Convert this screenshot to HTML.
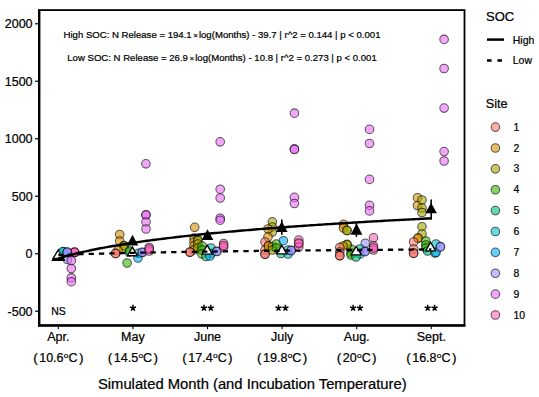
<!DOCTYPE html>
<html><head><meta charset="utf-8"><style>
html,body{margin:0;padding:0;background:#fff;}
svg{display:block;font-family:"Liberation Sans",sans-serif;}
text{fill:#000;stroke:#000;stroke-width:0.22px;}
</style></head><body>
<svg width="539" height="397" viewBox="0 0 539 397"><rect width="539" height="397" fill="#fff"/><rect x="39.2" y="10.1" width="425.3" height="315.3" fill="none" stroke="#000" stroke-width="1.8"/><line x1="39.2" y1="9.2" x2="39.2" y2="326.6" stroke="#000" stroke-width="2.3"/><line x1="38.1" y1="325.5" x2="465.4" y2="325.5" stroke="#000" stroke-width="2.3"/><line x1="35.2" y1="23.75" x2="38" y2="23.75" stroke="#000" stroke-width="1.3"/><text transform="translate(32.60,28.05) scale(1.045,1)" text-anchor="end" font-size="12" >2000</text><line x1="35.2" y1="81.25" x2="38" y2="81.25" stroke="#000" stroke-width="1.3"/><text transform="translate(32.60,85.55) scale(1.045,1)" text-anchor="end" font-size="12" >1500</text><line x1="35.2" y1="138.75" x2="38" y2="138.75" stroke="#000" stroke-width="1.3"/><text transform="translate(32.60,143.05) scale(1.045,1)" text-anchor="end" font-size="12" >1000</text><line x1="35.2" y1="196.25" x2="38" y2="196.25" stroke="#000" stroke-width="1.3"/><text transform="translate(32.60,200.55) scale(1.045,1)" text-anchor="end" font-size="12" >500</text><line x1="35.2" y1="253.75" x2="38" y2="253.75" stroke="#000" stroke-width="1.3"/><text transform="translate(32.60,258.05) scale(1.045,1)" text-anchor="end" font-size="12" >0</text><line x1="35.2" y1="311.25" x2="38" y2="311.25" stroke="#000" stroke-width="1.3"/><text transform="translate(32.60,315.55) scale(1.045,1)" text-anchor="end" font-size="12" >-500</text><line x1="58.30" y1="326.6" x2="58.30" y2="329.2" stroke="#000" stroke-width="1.1"/><line x1="132.90" y1="326.6" x2="132.90" y2="329.2" stroke="#000" stroke-width="1.1"/><line x1="207.50" y1="326.6" x2="207.50" y2="329.2" stroke="#000" stroke-width="1.1"/><line x1="282.10" y1="326.6" x2="282.10" y2="329.2" stroke="#000" stroke-width="1.1"/><line x1="356.70" y1="326.6" x2="356.70" y2="329.2" stroke="#000" stroke-width="1.1"/><line x1="431.30" y1="326.6" x2="431.30" y2="329.2" stroke="#000" stroke-width="1.1"/><text transform="translate(58.30,341.00) scale(1.045,1)" text-anchor="middle" font-size="12" >Apr.</text><text transform="translate(58.30,362.30) scale(1.045,1)" text-anchor="middle" font-size="12" ><tspan font-size="13" dy="-0.6">(</tspan><tspan dx="1.4" dy="0.6">10.6</tspan><tspan font-size="8" dy="-4.6" dx="0.3">o</tspan><tspan dy="4.6">C</tspan><tspan dx="1.3" font-size="13" dy="-0.6">)</tspan></text><text transform="translate(132.90,341.00) scale(1.045,1)" text-anchor="middle" font-size="12" >May</text><text transform="translate(132.90,362.30) scale(1.045,1)" text-anchor="middle" font-size="12" ><tspan font-size="13" dy="-0.6">(</tspan><tspan dx="1.4" dy="0.6">14.5</tspan><tspan font-size="8" dy="-4.6" dx="0.3">o</tspan><tspan dy="4.6">C</tspan><tspan dx="1.3" font-size="13" dy="-0.6">)</tspan></text><text transform="translate(207.50,341.00) scale(1.045,1)" text-anchor="middle" font-size="12" >June</text><text transform="translate(207.50,362.30) scale(1.045,1)" text-anchor="middle" font-size="12" ><tspan font-size="13" dy="-0.6">(</tspan><tspan dx="1.4" dy="0.6">17.4</tspan><tspan font-size="8" dy="-4.6" dx="0.3">o</tspan><tspan dy="4.6">C</tspan><tspan dx="1.3" font-size="13" dy="-0.6">)</tspan></text><text transform="translate(282.10,341.00) scale(1.045,1)" text-anchor="middle" font-size="12" >July</text><text transform="translate(282.10,362.30) scale(1.045,1)" text-anchor="middle" font-size="12" ><tspan font-size="13" dy="-0.6">(</tspan><tspan dx="1.4" dy="0.6">19.8</tspan><tspan font-size="8" dy="-4.6" dx="0.3">o</tspan><tspan dy="4.6">C</tspan><tspan dx="1.3" font-size="13" dy="-0.6">)</tspan></text><text transform="translate(356.70,341.00) scale(1.045,1)" text-anchor="middle" font-size="12" >Aug.</text><text transform="translate(356.70,362.30) scale(1.045,1)" text-anchor="middle" font-size="12" ><tspan font-size="13" dy="-0.6">(</tspan><tspan dx="1.4" dy="0.6">20</tspan><tspan font-size="8" dy="-4.6" dx="0.3">o</tspan><tspan dy="4.6">C</tspan><tspan dx="1.3" font-size="13" dy="-0.6">)</tspan></text><text transform="translate(431.30,341.00) scale(1.045,1)" text-anchor="middle" font-size="12" >Sept.</text><text transform="translate(431.30,362.30) scale(1.045,1)" text-anchor="middle" font-size="12" ><tspan font-size="13" dy="-0.6">(</tspan><tspan dx="1.4" dy="0.6">16.8</tspan><tspan font-size="8" dy="-4.6" dx="0.3">o</tspan><tspan dy="4.6">C</tspan><tspan dx="1.3" font-size="13" dy="-0.6">)</tspan></text><text transform="translate(252.30,389.10) scale(1.05,1)" text-anchor="middle" font-size="14.1" >Simulated Month (and Incubation Temperature)</text><circle cx="63.0" cy="251.9" r="4.3" fill="#00BFC4" fill-opacity="0.6" stroke="#000" stroke-opacity="0.62" stroke-width="1.05"/><circle cx="67.5" cy="259.5" r="4.3" fill="#9590FF" fill-opacity="0.6" stroke="#000" stroke-opacity="0.62" stroke-width="1.05"/><circle cx="71.3" cy="260.7" r="4.3" fill="#E76BF3" fill-opacity="0.6" stroke="#000" stroke-opacity="0.62" stroke-width="1.05"/><circle cx="71.3" cy="268.5" r="4.3" fill="#E76BF3" fill-opacity="0.6" stroke="#000" stroke-opacity="0.62" stroke-width="1.05"/><circle cx="71.3" cy="277.9" r="4.3" fill="#E76BF3" fill-opacity="0.6" stroke="#000" stroke-opacity="0.62" stroke-width="1.05"/><circle cx="71.3" cy="281.7" r="4.3" fill="#E76BF3" fill-opacity="0.6" stroke="#000" stroke-opacity="0.62" stroke-width="1.05"/><circle cx="74.6" cy="252.6" r="4.3" fill="#FF62BC" fill-opacity="0.6" stroke="#000" stroke-opacity="0.62" stroke-width="1.05"/><circle cx="74.6" cy="252.0" r="4.3" fill="#FF62BC" fill-opacity="0.6" stroke="#000" stroke-opacity="0.62" stroke-width="1.05"/><circle cx="74.6" cy="252.3" r="4.3" fill="#FF62BC" fill-opacity="0.6" stroke="#000" stroke-opacity="0.62" stroke-width="1.05"/><circle cx="145.9" cy="163.8" r="4.3" fill="#E76BF3" fill-opacity="0.6" stroke="#000" stroke-opacity="0.62" stroke-width="1.05"/><circle cx="146" cy="214.8" r="4.3" fill="#E76BF3" fill-opacity="0.6" stroke="#000" stroke-opacity="0.62" stroke-width="1.05"/><circle cx="146" cy="215" r="4.3" fill="#E76BF3" fill-opacity="0.6" stroke="#000" stroke-opacity="0.62" stroke-width="1.05"/><circle cx="146" cy="222" r="4.3" fill="#E76BF3" fill-opacity="0.6" stroke="#000" stroke-opacity="0.62" stroke-width="1.05"/><circle cx="146" cy="229" r="4.3" fill="#E76BF3" fill-opacity="0.6" stroke="#000" stroke-opacity="0.62" stroke-width="1.05"/><circle cx="119.7" cy="234.5" r="4.3" fill="#D89000" fill-opacity="0.6" stroke="#000" stroke-opacity="0.62" stroke-width="1.05"/><circle cx="119.7" cy="241" r="4.3" fill="#D89000" fill-opacity="0.6" stroke="#000" stroke-opacity="0.62" stroke-width="1.05"/><circle cx="124" cy="245.5" r="4.3" fill="#A3A500" fill-opacity="0.6" stroke="#000" stroke-opacity="0.62" stroke-width="1.05"/><circle cx="124" cy="246" r="4.3" fill="#A3A500" fill-opacity="0.6" stroke="#000" stroke-opacity="0.62" stroke-width="1.05"/><circle cx="124" cy="249" r="4.3" fill="#A3A500" fill-opacity="0.6" stroke="#000" stroke-opacity="0.62" stroke-width="1.05"/><circle cx="118" cy="250.5" r="4.3" fill="#D89000" fill-opacity="0.6" stroke="#000" stroke-opacity="0.62" stroke-width="1.05"/><circle cx="115.6" cy="253.3" r="4.3" fill="#F8766D" fill-opacity="0.6" stroke="#000" stroke-opacity="0.62" stroke-width="1.05"/><circle cx="115.6" cy="253.6" r="4.3" fill="#F8766D" fill-opacity="0.6" stroke="#000" stroke-opacity="0.62" stroke-width="1.05"/><circle cx="127.1" cy="263" r="4.3" fill="#39B600" fill-opacity="0.6" stroke="#000" stroke-opacity="0.62" stroke-width="1.05"/><circle cx="129.2" cy="252" r="4.3" fill="#00BF7D" fill-opacity="0.6" stroke="#000" stroke-opacity="0.62" stroke-width="1.05"/><circle cx="129.8" cy="251" r="4.3" fill="#39B600" fill-opacity="0.6" stroke="#000" stroke-opacity="0.62" stroke-width="1.05"/><circle cx="138.3" cy="253.4" r="4.3" fill="#00BFC4" fill-opacity="0.6" stroke="#000" stroke-opacity="0.62" stroke-width="1.05"/><circle cx="138" cy="258" r="4.3" fill="#00B0F6" fill-opacity="0.6" stroke="#000" stroke-opacity="0.62" stroke-width="1.05"/><circle cx="142.3" cy="252.5" r="4.3" fill="#9590FF" fill-opacity="0.6" stroke="#000" stroke-opacity="0.62" stroke-width="1.05"/><circle cx="142.3" cy="252.2" r="4.3" fill="#9590FF" fill-opacity="0.6" stroke="#000" stroke-opacity="0.62" stroke-width="1.05"/><circle cx="149.2" cy="247.5" r="4.3" fill="#FF62BC" fill-opacity="0.6" stroke="#000" stroke-opacity="0.62" stroke-width="1.05"/><circle cx="149.2" cy="251" r="4.3" fill="#FF62BC" fill-opacity="0.6" stroke="#000" stroke-opacity="0.62" stroke-width="1.05"/><circle cx="149.2" cy="249" r="4.3" fill="#FF62BC" fill-opacity="0.6" stroke="#000" stroke-opacity="0.62" stroke-width="1.05"/><circle cx="220.2" cy="141.8" r="4.3" fill="#E76BF3" fill-opacity="0.6" stroke="#000" stroke-opacity="0.62" stroke-width="1.05"/><circle cx="220.2" cy="189.2" r="4.3" fill="#E76BF3" fill-opacity="0.6" stroke="#000" stroke-opacity="0.62" stroke-width="1.05"/><circle cx="220.2" cy="198" r="4.3" fill="#E76BF3" fill-opacity="0.6" stroke="#000" stroke-opacity="0.62" stroke-width="1.05"/><circle cx="220.2" cy="218.2" r="4.3" fill="#E76BF3" fill-opacity="0.6" stroke="#000" stroke-opacity="0.62" stroke-width="1.05"/><circle cx="220.2" cy="220.2" r="4.3" fill="#E76BF3" fill-opacity="0.6" stroke="#000" stroke-opacity="0.62" stroke-width="1.05"/><circle cx="194.7" cy="227.3" r="4.3" fill="#D89000" fill-opacity="0.6" stroke="#000" stroke-opacity="0.62" stroke-width="1.05"/><circle cx="194" cy="238" r="4.3" fill="#D89000" fill-opacity="0.6" stroke="#000" stroke-opacity="0.62" stroke-width="1.05"/><circle cx="194" cy="242" r="4.3" fill="#D89000" fill-opacity="0.6" stroke="#000" stroke-opacity="0.62" stroke-width="1.05"/><circle cx="194" cy="246" r="4.3" fill="#D89000" fill-opacity="0.6" stroke="#000" stroke-opacity="0.62" stroke-width="1.05"/><circle cx="194" cy="250" r="4.3" fill="#D89000" fill-opacity="0.6" stroke="#000" stroke-opacity="0.62" stroke-width="1.05"/><circle cx="197.9" cy="240" r="4.3" fill="#A3A500" fill-opacity="0.6" stroke="#000" stroke-opacity="0.62" stroke-width="1.05"/><circle cx="197.9" cy="240.5" r="4.3" fill="#A3A500" fill-opacity="0.6" stroke="#000" stroke-opacity="0.62" stroke-width="1.05"/><circle cx="197.9" cy="244" r="4.3" fill="#A3A500" fill-opacity="0.6" stroke="#000" stroke-opacity="0.62" stroke-width="1.05"/><circle cx="197.9" cy="248" r="4.3" fill="#A3A500" fill-opacity="0.6" stroke="#000" stroke-opacity="0.62" stroke-width="1.05"/><circle cx="189.9" cy="252" r="4.3" fill="#F8766D" fill-opacity="0.6" stroke="#000" stroke-opacity="0.62" stroke-width="1.05"/><circle cx="189.9" cy="252.3" r="4.3" fill="#F8766D" fill-opacity="0.6" stroke="#000" stroke-opacity="0.62" stroke-width="1.05"/><circle cx="202" cy="246" r="4.3" fill="#39B600" fill-opacity="0.6" stroke="#000" stroke-opacity="0.62" stroke-width="1.05"/><circle cx="202" cy="250" r="4.3" fill="#39B600" fill-opacity="0.6" stroke="#000" stroke-opacity="0.62" stroke-width="1.05"/><circle cx="202" cy="254" r="4.3" fill="#39B600" fill-opacity="0.6" stroke="#000" stroke-opacity="0.62" stroke-width="1.05"/><circle cx="211" cy="248" r="4.3" fill="#00BFC4" fill-opacity="0.6" stroke="#000" stroke-opacity="0.62" stroke-width="1.05"/><circle cx="211" cy="253.5" r="4.3" fill="#00BFC4" fill-opacity="0.6" stroke="#000" stroke-opacity="0.62" stroke-width="1.05"/><circle cx="206" cy="256.5" r="4.3" fill="#00BF7D" fill-opacity="0.6" stroke="#000" stroke-opacity="0.62" stroke-width="1.05"/><circle cx="210" cy="256" r="4.3" fill="#00B0F6" fill-opacity="0.6" stroke="#000" stroke-opacity="0.62" stroke-width="1.05"/><circle cx="216.8" cy="251.2" r="4.3" fill="#9590FF" fill-opacity="0.6" stroke="#000" stroke-opacity="0.62" stroke-width="1.05"/><circle cx="216.8" cy="251.5" r="4.3" fill="#9590FF" fill-opacity="0.6" stroke="#000" stroke-opacity="0.62" stroke-width="1.05"/><circle cx="223.6" cy="243.5" r="4.3" fill="#FF62BC" fill-opacity="0.6" stroke="#000" stroke-opacity="0.62" stroke-width="1.05"/><circle cx="223.6" cy="247.5" r="4.3" fill="#FF62BC" fill-opacity="0.6" stroke="#000" stroke-opacity="0.62" stroke-width="1.05"/><circle cx="223.6" cy="245.5" r="4.3" fill="#FF62BC" fill-opacity="0.6" stroke="#000" stroke-opacity="0.62" stroke-width="1.05"/><circle cx="294.4" cy="113.2" r="4.3" fill="#E76BF3" fill-opacity="0.6" stroke="#000" stroke-opacity="0.62" stroke-width="1.05"/><circle cx="294.4" cy="148.9" r="4.3" fill="#E76BF3" fill-opacity="0.6" stroke="#000" stroke-opacity="0.62" stroke-width="1.05"/><circle cx="294.4" cy="149.5" r="4.3" fill="#E76BF3" fill-opacity="0.6" stroke="#000" stroke-opacity="0.62" stroke-width="1.05"/><circle cx="294.4" cy="197.4" r="4.3" fill="#E76BF3" fill-opacity="0.6" stroke="#000" stroke-opacity="0.62" stroke-width="1.05"/><circle cx="294.4" cy="203.5" r="4.3" fill="#E76BF3" fill-opacity="0.6" stroke="#000" stroke-opacity="0.62" stroke-width="1.05"/><circle cx="272.3" cy="221.8" r="4.3" fill="#A3A500" fill-opacity="0.6" stroke="#000" stroke-opacity="0.62" stroke-width="1.05"/><circle cx="272.3" cy="227" r="4.3" fill="#A3A500" fill-opacity="0.6" stroke="#000" stroke-opacity="0.62" stroke-width="1.05"/><circle cx="272.3" cy="232" r="4.3" fill="#A3A500" fill-opacity="0.6" stroke="#000" stroke-opacity="0.62" stroke-width="1.05"/><circle cx="268" cy="229" r="4.3" fill="#D89000" fill-opacity="0.6" stroke="#000" stroke-opacity="0.62" stroke-width="1.05"/><circle cx="268" cy="237" r="4.3" fill="#D89000" fill-opacity="0.6" stroke="#000" stroke-opacity="0.62" stroke-width="1.05"/><circle cx="265" cy="242" r="4.3" fill="#F8766D" fill-opacity="0.6" stroke="#000" stroke-opacity="0.62" stroke-width="1.05"/><circle cx="265" cy="250" r="4.3" fill="#F8766D" fill-opacity="0.6" stroke="#000" stroke-opacity="0.62" stroke-width="1.05"/><circle cx="265" cy="254" r="4.3" fill="#F8766D" fill-opacity="0.6" stroke="#000" stroke-opacity="0.62" stroke-width="1.05"/><circle cx="265" cy="254.3" r="4.3" fill="#F8766D" fill-opacity="0.6" stroke="#000" stroke-opacity="0.62" stroke-width="1.05"/><circle cx="268.5" cy="245.7" r="4.3" fill="#D89000" fill-opacity="0.6" stroke="#000" stroke-opacity="0.62" stroke-width="1.05"/><circle cx="268.5" cy="246" r="4.3" fill="#D89000" fill-opacity="0.6" stroke="#000" stroke-opacity="0.62" stroke-width="1.05"/><circle cx="272.5" cy="246.5" r="4.3" fill="#A3A500" fill-opacity="0.6" stroke="#000" stroke-opacity="0.62" stroke-width="1.05"/><circle cx="272.5" cy="250" r="4.3" fill="#A3A500" fill-opacity="0.6" stroke="#000" stroke-opacity="0.62" stroke-width="1.05"/><circle cx="276.4" cy="244" r="4.3" fill="#39B600" fill-opacity="0.6" stroke="#000" stroke-opacity="0.62" stroke-width="1.05"/><circle cx="276.4" cy="248" r="4.3" fill="#39B600" fill-opacity="0.6" stroke="#000" stroke-opacity="0.62" stroke-width="1.05"/><circle cx="283.4" cy="240.7" r="4.3" fill="#00B0F6" fill-opacity="0.6" stroke="#000" stroke-opacity="0.62" stroke-width="1.05"/><circle cx="281" cy="253.5" r="4.3" fill="#00BF7D" fill-opacity="0.6" stroke="#000" stroke-opacity="0.62" stroke-width="1.05"/><circle cx="288" cy="250" r="4.3" fill="#00BFC4" fill-opacity="0.6" stroke="#000" stroke-opacity="0.62" stroke-width="1.05"/><circle cx="288" cy="254" r="4.3" fill="#00BFC4" fill-opacity="0.6" stroke="#000" stroke-opacity="0.62" stroke-width="1.05"/><circle cx="291.2" cy="250.4" r="4.3" fill="#9590FF" fill-opacity="0.6" stroke="#000" stroke-opacity="0.62" stroke-width="1.05"/><circle cx="291.2" cy="250.6" r="4.3" fill="#9590FF" fill-opacity="0.6" stroke="#000" stroke-opacity="0.62" stroke-width="1.05"/><circle cx="298.8" cy="240" r="4.3" fill="#FF62BC" fill-opacity="0.6" stroke="#000" stroke-opacity="0.62" stroke-width="1.05"/><circle cx="298.8" cy="244" r="4.3" fill="#FF62BC" fill-opacity="0.6" stroke="#000" stroke-opacity="0.62" stroke-width="1.05"/><circle cx="298.8" cy="247" r="4.3" fill="#FF62BC" fill-opacity="0.6" stroke="#000" stroke-opacity="0.62" stroke-width="1.05"/><circle cx="298.8" cy="243" r="4.3" fill="#FF62BC" fill-opacity="0.6" stroke="#000" stroke-opacity="0.62" stroke-width="1.05"/><circle cx="369.5" cy="129.4" r="4.3" fill="#E76BF3" fill-opacity="0.6" stroke="#000" stroke-opacity="0.62" stroke-width="1.05"/><circle cx="369.5" cy="143.5" r="4.3" fill="#E76BF3" fill-opacity="0.6" stroke="#000" stroke-opacity="0.62" stroke-width="1.05"/><circle cx="369.5" cy="179.4" r="4.3" fill="#E76BF3" fill-opacity="0.6" stroke="#000" stroke-opacity="0.62" stroke-width="1.05"/><circle cx="369.5" cy="205.4" r="4.3" fill="#E76BF3" fill-opacity="0.6" stroke="#000" stroke-opacity="0.62" stroke-width="1.05"/><circle cx="369.5" cy="210.9" r="4.3" fill="#E76BF3" fill-opacity="0.6" stroke="#000" stroke-opacity="0.62" stroke-width="1.05"/><circle cx="343.5" cy="224.3" r="4.3" fill="#D89000" fill-opacity="0.6" stroke="#000" stroke-opacity="0.62" stroke-width="1.05"/><circle cx="343.5" cy="228" r="4.3" fill="#D89000" fill-opacity="0.6" stroke="#000" stroke-opacity="0.62" stroke-width="1.05"/><circle cx="347" cy="230.3" r="4.3" fill="#A3A500" fill-opacity="0.6" stroke="#000" stroke-opacity="0.62" stroke-width="1.05"/><circle cx="347" cy="230.6" r="4.3" fill="#A3A500" fill-opacity="0.6" stroke="#000" stroke-opacity="0.62" stroke-width="1.05"/><circle cx="373.5" cy="237.8" r="4.3" fill="#FF62BC" fill-opacity="0.6" stroke="#000" stroke-opacity="0.62" stroke-width="1.05"/><circle cx="373.5" cy="246" r="4.3" fill="#FF62BC" fill-opacity="0.6" stroke="#000" stroke-opacity="0.62" stroke-width="1.05"/><circle cx="373.5" cy="250" r="4.3" fill="#FF62BC" fill-opacity="0.6" stroke="#000" stroke-opacity="0.62" stroke-width="1.05"/><circle cx="373.5" cy="248" r="4.3" fill="#FF62BC" fill-opacity="0.6" stroke="#000" stroke-opacity="0.62" stroke-width="1.05"/><circle cx="365.3" cy="243.2" r="4.3" fill="#9590FF" fill-opacity="0.6" stroke="#000" stroke-opacity="0.62" stroke-width="1.05"/><circle cx="351" cy="249" r="4.3" fill="#39B600" fill-opacity="0.6" stroke="#000" stroke-opacity="0.62" stroke-width="1.05"/><circle cx="351" cy="253" r="4.3" fill="#39B600" fill-opacity="0.6" stroke="#000" stroke-opacity="0.62" stroke-width="1.05"/><circle cx="351" cy="255" r="4.3" fill="#39B600" fill-opacity="0.6" stroke="#000" stroke-opacity="0.62" stroke-width="1.05"/><circle cx="347" cy="244.4" r="4.3" fill="#A3A500" fill-opacity="0.6" stroke="#000" stroke-opacity="0.62" stroke-width="1.05"/><circle cx="347" cy="244.7" r="4.3" fill="#A3A500" fill-opacity="0.6" stroke="#000" stroke-opacity="0.62" stroke-width="1.05"/><circle cx="343" cy="246" r="4.3" fill="#D89000" fill-opacity="0.6" stroke="#000" stroke-opacity="0.62" stroke-width="1.05"/><circle cx="339.8" cy="247.5" r="4.3" fill="#F8766D" fill-opacity="0.6" stroke="#000" stroke-opacity="0.62" stroke-width="1.05"/><circle cx="339.8" cy="252" r="4.3" fill="#F8766D" fill-opacity="0.6" stroke="#000" stroke-opacity="0.62" stroke-width="1.05"/><circle cx="339.8" cy="255.5" r="4.3" fill="#F8766D" fill-opacity="0.6" stroke="#000" stroke-opacity="0.62" stroke-width="1.05"/><circle cx="339.8" cy="255.8" r="4.3" fill="#F8766D" fill-opacity="0.6" stroke="#000" stroke-opacity="0.62" stroke-width="1.05"/><circle cx="360" cy="249" r="4.3" fill="#00BFC4" fill-opacity="0.6" stroke="#000" stroke-opacity="0.62" stroke-width="1.05"/><circle cx="360" cy="254" r="4.3" fill="#00BFC4" fill-opacity="0.6" stroke="#000" stroke-opacity="0.62" stroke-width="1.05"/><circle cx="356" cy="257" r="4.3" fill="#00BF7D" fill-opacity="0.6" stroke="#000" stroke-opacity="0.62" stroke-width="1.05"/><circle cx="365" cy="251.4" r="4.3" fill="#9590FF" fill-opacity="0.6" stroke="#000" stroke-opacity="0.62" stroke-width="1.05"/><circle cx="365" cy="251.7" r="4.3" fill="#9590FF" fill-opacity="0.6" stroke="#000" stroke-opacity="0.62" stroke-width="1.05"/><circle cx="444.1" cy="39.4" r="4.3" fill="#E76BF3" fill-opacity="0.6" stroke="#000" stroke-opacity="0.62" stroke-width="1.05"/><circle cx="444.1" cy="68.5" r="4.3" fill="#E76BF3" fill-opacity="0.6" stroke="#000" stroke-opacity="0.62" stroke-width="1.05"/><circle cx="444.1" cy="108.1" r="4.3" fill="#E76BF3" fill-opacity="0.6" stroke="#000" stroke-opacity="0.62" stroke-width="1.05"/><circle cx="444.1" cy="151.6" r="4.3" fill="#E76BF3" fill-opacity="0.6" stroke="#000" stroke-opacity="0.62" stroke-width="1.05"/><circle cx="444.1" cy="161" r="4.3" fill="#E76BF3" fill-opacity="0.6" stroke="#000" stroke-opacity="0.62" stroke-width="1.05"/><circle cx="417.5" cy="197.7" r="4.3" fill="#D89000" fill-opacity="0.6" stroke="#000" stroke-opacity="0.62" stroke-width="1.05"/><circle cx="417.5" cy="205.5" r="4.3" fill="#D89000" fill-opacity="0.6" stroke="#000" stroke-opacity="0.62" stroke-width="1.05"/><circle cx="422" cy="200" r="4.3" fill="#A3A500" fill-opacity="0.6" stroke="#000" stroke-opacity="0.62" stroke-width="1.05"/><circle cx="422" cy="208" r="4.3" fill="#A3A500" fill-opacity="0.6" stroke="#000" stroke-opacity="0.62" stroke-width="1.05"/><circle cx="422" cy="212.5" r="4.3" fill="#A3A500" fill-opacity="0.6" stroke="#000" stroke-opacity="0.62" stroke-width="1.05"/><circle cx="422" cy="226.7" r="4.3" fill="#A3A500" fill-opacity="0.6" stroke="#000" stroke-opacity="0.62" stroke-width="1.05"/><circle cx="422" cy="234" r="4.3" fill="#A3A500" fill-opacity="0.6" stroke="#000" stroke-opacity="0.62" stroke-width="1.05"/><circle cx="418" cy="238" r="4.3" fill="#D89000" fill-opacity="0.6" stroke="#000" stroke-opacity="0.62" stroke-width="1.05"/><circle cx="418" cy="238.3" r="4.3" fill="#D89000" fill-opacity="0.6" stroke="#000" stroke-opacity="0.62" stroke-width="1.05"/><circle cx="413.6" cy="242" r="4.3" fill="#F8766D" fill-opacity="0.6" stroke="#000" stroke-opacity="0.62" stroke-width="1.05"/><circle cx="413.6" cy="249" r="4.3" fill="#F8766D" fill-opacity="0.6" stroke="#000" stroke-opacity="0.62" stroke-width="1.05"/><circle cx="413.6" cy="253" r="4.3" fill="#F8766D" fill-opacity="0.6" stroke="#000" stroke-opacity="0.62" stroke-width="1.05"/><circle cx="413.6" cy="253.3" r="4.3" fill="#F8766D" fill-opacity="0.6" stroke="#000" stroke-opacity="0.62" stroke-width="1.05"/><circle cx="425.8" cy="241" r="4.3" fill="#39B600" fill-opacity="0.6" stroke="#000" stroke-opacity="0.62" stroke-width="1.05"/><circle cx="425.8" cy="245" r="4.3" fill="#39B600" fill-opacity="0.6" stroke="#000" stroke-opacity="0.62" stroke-width="1.05"/><circle cx="426" cy="248" r="4.3" fill="#39B600" fill-opacity="0.6" stroke="#000" stroke-opacity="0.62" stroke-width="1.05"/><circle cx="427.5" cy="251" r="4.3" fill="#00BF7D" fill-opacity="0.6" stroke="#000" stroke-opacity="0.62" stroke-width="1.05"/><circle cx="436" cy="244" r="4.3" fill="#00BFC4" fill-opacity="0.6" stroke="#000" stroke-opacity="0.62" stroke-width="1.05"/><circle cx="435" cy="253" r="4.3" fill="#00BFC4" fill-opacity="0.6" stroke="#000" stroke-opacity="0.62" stroke-width="1.05"/><circle cx="436" cy="252.5" r="4.3" fill="#00B0F6" fill-opacity="0.6" stroke="#000" stroke-opacity="0.62" stroke-width="1.05"/><circle cx="440.4" cy="246.6" r="4.3" fill="#9590FF" fill-opacity="0.6" stroke="#000" stroke-opacity="0.62" stroke-width="1.05"/><circle cx="440.4" cy="246.9" r="4.3" fill="#9590FF" fill-opacity="0.6" stroke="#000" stroke-opacity="0.62" stroke-width="1.05"/><polygon points="51.30,261.00 58.40,248.60 65.50,261.00" fill="#000"/><polygon points="126.80,245.60 132.50,234.80 138.20,245.60" fill="#000"/><polygon points="201.70,239.90 207.50,229.20 213.30,239.90" fill="#000"/><polygon points="276.00,232.00 281.80,221.20 287.60,232.00" fill="#000"/><polygon points="350.60,234.80 356.50,223.60 362.40,234.80" fill="#000"/><polygon points="425.30,213.20 431.10,202.80 436.90,213.20" fill="#000"/><polygon points="53.05,258.35 58.30,250.00 63.55,258.35" fill="#fff" stroke="#000" stroke-width="1.3" stroke-linejoin="miter"/><polygon points="127.35,255.75 132.40,247.10 137.45,255.75" fill="#fff" stroke="#000" stroke-width="1.3" stroke-linejoin="miter"/><polygon points="202.05,254.15 207.20,245.10 212.35,254.15" fill="#fff" stroke="#000" stroke-width="1.3" stroke-linejoin="miter"/><polygon points="276.75,253.95 281.80,245.30 286.85,253.95" fill="#fff" stroke="#000" stroke-width="1.3" stroke-linejoin="miter"/><polygon points="351.05,254.95 356.20,246.50 361.35,254.95" fill="#fff" stroke="#000" stroke-width="1.3" stroke-linejoin="miter"/><polygon points="425.65,250.95 430.60,242.30 435.55,250.95" fill="#fff" stroke="#000" stroke-width="1.3" stroke-linejoin="miter"/><circle cx="63.2" cy="251.6" r="4.3" fill="#00BFC4" fill-opacity="0.6" stroke="#000" stroke-opacity="0.62" stroke-width="1.05"/><circle cx="67.2" cy="252.3" r="4.3" fill="#9590FF" fill-opacity="0.6" stroke="#000" stroke-opacity="0.62" stroke-width="1.05"/><circle cx="67.2" cy="252.6" r="4.3" fill="#9590FF" fill-opacity="0.6" stroke="#000" stroke-opacity="0.62" stroke-width="1.05"/><circle cx="67.2" cy="252.0" r="4.3" fill="#9590FF" fill-opacity="0.6" stroke="#000" stroke-opacity="0.62" stroke-width="1.05"/><line x1="431.2" y1="199.6" x2="431.2" y2="219.4" stroke="#000" stroke-width="1.6"/><line x1="356.4" y1="222.5" x2="356.4" y2="236.8" stroke="#000" stroke-width="1.6"/><line x1="281.8" y1="219.5" x2="281.8" y2="234.8" stroke="#000" stroke-width="1.6"/><polyline points="58.30,258.32 60.79,257.58 63.27,256.87 65.76,256.19 68.25,255.52 70.73,254.87 73.22,254.25 75.71,253.63 78.19,253.04 80.68,252.46 83.17,251.89 85.65,251.34 88.14,250.80 90.63,250.28 93.11,249.77 95.60,249.26 98.09,248.77 100.57,248.29 103.06,247.82 105.55,247.36 108.03,246.91 110.52,246.47 113.01,246.04 115.49,245.61 117.98,245.20 120.47,244.79 122.95,244.38 125.44,243.99 127.93,243.60 130.41,243.22 132.90,242.84 135.39,242.47 137.87,242.11 140.36,241.75 142.85,241.40 145.33,241.06 147.82,240.72 150.31,240.38 152.79,240.05 155.28,239.72 157.77,239.40 160.25,239.09 162.74,238.77 165.23,238.47 167.71,238.16 170.20,237.86 172.69,237.57 175.17,237.28 177.66,236.99 180.15,236.70 182.63,236.42 185.12,236.14 187.61,235.87 190.09,235.60 192.58,235.33 195.07,235.07 197.55,234.81 200.04,234.55 202.53,234.29 205.01,234.04 207.50,233.79 209.99,233.55 212.47,233.30 214.96,233.06 217.45,232.82 219.93,232.59 222.42,232.35 224.91,232.12 227.39,231.89 229.88,231.67 232.37,231.44 234.85,231.22 237.34,231.00 239.83,230.78 242.31,230.57 244.80,230.35 247.29,230.14 249.77,229.93 252.26,229.72 254.75,229.52 257.23,229.31 259.72,229.11 262.21,228.91 264.69,228.71 267.18,228.52 269.67,228.32 272.15,228.13 274.64,227.94 277.13,227.75 279.61,227.56 282.10,227.37 284.59,227.19 287.07,227.00 289.56,226.82 292.05,226.64 294.53,226.46 297.02,226.28 299.51,226.11 301.99,225.93 304.48,225.76 306.97,225.58 309.45,225.41 311.94,225.24 314.43,225.08 316.91,224.91 319.40,224.74 321.89,224.58 324.37,224.41 326.86,224.25 329.35,224.09 331.83,223.93 334.32,223.77 336.81,223.61 339.29,223.46 341.78,223.30 344.27,223.15 346.75,222.99 349.24,222.84 351.73,222.69 354.21,222.54 356.70,222.39 359.19,222.24 361.67,222.09 364.16,221.95 366.65,221.80 369.13,221.66 371.62,221.51 374.11,221.37 376.59,221.23 379.08,221.09 381.57,220.95 384.05,220.81 386.54,220.67 389.03,220.54 391.51,220.40 394.00,220.26 396.49,220.13 398.97,219.99 401.46,219.86 403.95,219.73 406.43,219.60 408.92,219.47 411.41,219.34 413.89,219.21 416.38,219.08 418.87,218.95 421.35,218.82 423.84,218.70 426.33,218.57 428.81,218.45 431.30,218.32" fill="none" stroke="#000" stroke-width="2.4"/><polyline points="58.30,254.99 60.79,254.89 63.27,254.79 65.76,254.70 68.25,254.60 70.73,254.52 73.22,254.43 75.71,254.34 78.19,254.26 80.68,254.18 83.17,254.10 85.65,254.03 88.14,253.95 90.63,253.88 93.11,253.81 95.60,253.74 98.09,253.67 100.57,253.60 103.06,253.54 105.55,253.47 108.03,253.41 110.52,253.35 113.01,253.29 115.49,253.23 117.98,253.17 120.47,253.12 122.95,253.06 125.44,253.01 127.93,252.95 130.41,252.90 132.90,252.85 135.39,252.80 137.87,252.75 140.36,252.70 142.85,252.65 145.33,252.60 147.82,252.55 150.31,252.51 152.79,252.46 155.28,252.42 157.77,252.37 160.25,252.33 162.74,252.28 165.23,252.24 167.71,252.20 170.20,252.16 172.69,252.12 175.17,252.08 177.66,252.04 180.15,252.00 182.63,251.96 185.12,251.92 187.61,251.88 190.09,251.84 192.58,251.81 195.07,251.77 197.55,251.73 200.04,251.70 202.53,251.66 205.01,251.63 207.50,251.59 209.99,251.56 212.47,251.53 214.96,251.49 217.45,251.46 219.93,251.43 222.42,251.39 224.91,251.36 227.39,251.33 229.88,251.30 232.37,251.27 234.85,251.24 237.34,251.21 239.83,251.18 242.31,251.15 244.80,251.12 247.29,251.09 249.77,251.06 252.26,251.03 254.75,251.00 257.23,250.97 259.72,250.94 262.21,250.92 264.69,250.89 267.18,250.86 269.67,250.84 272.15,250.81 274.64,250.78 277.13,250.76 279.61,250.73 282.10,250.70 284.59,250.68 287.07,250.65 289.56,250.63 292.05,250.60 294.53,250.58 297.02,250.55 299.51,250.53 301.99,250.50 304.48,250.48 306.97,250.46 309.45,250.43 311.94,250.41 314.43,250.39 316.91,250.36 319.40,250.34 321.89,250.32 324.37,250.29 326.86,250.27 329.35,250.25 331.83,250.23 334.32,250.20 336.81,250.18 339.29,250.16 341.78,250.14 344.27,250.12 346.75,250.10 349.24,250.08 351.73,250.05 354.21,250.03 356.70,250.01 359.19,249.99 361.67,249.97 364.16,249.95 366.65,249.93 369.13,249.91 371.62,249.89 374.11,249.87 376.59,249.85 379.08,249.83 381.57,249.81 384.05,249.79 386.54,249.78 389.03,249.76 391.51,249.74 394.00,249.72 396.49,249.70 398.97,249.68 401.46,249.66 403.95,249.64 406.43,249.63 408.92,249.61 411.41,249.59 413.89,249.57 416.38,249.55 418.87,249.54 421.35,249.52 423.84,249.50 426.33,249.48 428.81,249.47 431.30,249.45" fill="none" stroke="#000" stroke-width="2.3" stroke-dasharray="5.3,5.02" stroke-dashoffset="0.64"/><text transform="translate(58.50,315.40) scale(1.045,1)" text-anchor="middle" font-size="10" >NS</text><path d="M133.00,308.00L133.00,304.80M133.00,308.00L136.04,307.01M133.00,308.00L134.88,310.59M133.00,308.00L131.12,310.59M133.00,308.00L129.96,307.01" stroke="#000" stroke-width="1.45" fill="none"/><path d="M203.90,308.00L203.90,304.80M203.90,308.00L206.94,307.01M203.90,308.00L205.78,310.59M203.90,308.00L202.02,310.59M203.90,308.00L200.86,307.01" stroke="#000" stroke-width="1.45" fill="none"/><path d="M210.80,308.00L210.80,304.80M210.80,308.00L213.84,307.01M210.80,308.00L212.68,310.59M210.80,308.00L208.92,310.59M210.80,308.00L207.76,307.01" stroke="#000" stroke-width="1.45" fill="none"/><path d="M278.50,308.00L278.50,304.80M278.50,308.00L281.54,307.01M278.50,308.00L280.38,310.59M278.50,308.00L276.62,310.59M278.50,308.00L275.46,307.01" stroke="#000" stroke-width="1.45" fill="none"/><path d="M285.40,308.00L285.40,304.80M285.40,308.00L288.44,307.01M285.40,308.00L287.28,310.59M285.40,308.00L283.52,310.59M285.40,308.00L282.36,307.01" stroke="#000" stroke-width="1.45" fill="none"/><path d="M353.10,308.00L353.10,304.80M353.10,308.00L356.14,307.01M353.10,308.00L354.98,310.59M353.10,308.00L351.22,310.59M353.10,308.00L350.06,307.01" stroke="#000" stroke-width="1.45" fill="none"/><path d="M360.00,308.00L360.00,304.80M360.00,308.00L363.04,307.01M360.00,308.00L361.88,310.59M360.00,308.00L358.12,310.59M360.00,308.00L356.96,307.01" stroke="#000" stroke-width="1.45" fill="none"/><path d="M427.70,308.00L427.70,304.80M427.70,308.00L430.74,307.01M427.70,308.00L429.58,310.59M427.70,308.00L425.82,310.59M427.70,308.00L424.66,307.01" stroke="#000" stroke-width="1.45" fill="none"/><path d="M434.60,308.00L434.60,304.80M434.60,308.00L437.64,307.01M434.60,308.00L436.48,310.59M434.60,308.00L432.72,310.59M434.60,308.00L431.56,307.01" stroke="#000" stroke-width="1.45" fill="none"/><text transform="translate(222.00,37.60) scale(1.032,1)" text-anchor="middle" font-size="9.3" >High SOC: N Release = 194.1 <tspan font-size="7.8" dx="-1.0">×</tspan><tspan dx="0.9">log(Months) - 39.7 | r^2 = 0.144 | p &lt; 0.001</tspan></text><text transform="translate(222.00,61.40) scale(1.032,1)" text-anchor="middle" font-size="9.3" >Low SOC: N Release = 26.9 <tspan font-size="7.8" dx="-1.0">×</tspan><tspan dx="0.9">log(Months) - 10.8 | r^2 = 0.273 | p &lt; 0.001</tspan></text><text transform="translate(486.00,21.40) scale(1.0,1)" text-anchor="start" font-size="13" >SOC</text><line x1="487" y1="39.6" x2="504" y2="39.6" stroke="#000" stroke-width="2.5"/><text transform="translate(512.80,43.60) scale(1.045,1)" text-anchor="start" font-size="10" >High</text><line x1="487" y1="60.6" x2="504" y2="60.6" stroke="#000" stroke-width="2.5" stroke-dasharray="4.6,5.8"/><text transform="translate(512.80,63.90) scale(1.045,1)" text-anchor="start" font-size="10" >Low</text><text transform="translate(485.70,108.30) scale(0.98,1)" text-anchor="start" font-size="13" >Site</text><circle cx="495.4" cy="127.1" r="4.3" fill="#F8766D" fill-opacity="0.6" stroke="#000" stroke-opacity="0.62" stroke-width="1.05"/><text transform="translate(513.40,130.70) scale(1.045,1)" text-anchor="start" font-size="10" >1</text><circle cx="495.4" cy="147.98" r="4.3" fill="#D89000" fill-opacity="0.6" stroke="#000" stroke-opacity="0.62" stroke-width="1.05"/><text transform="translate(513.40,151.58) scale(1.045,1)" text-anchor="start" font-size="10" >2</text><circle cx="495.4" cy="168.86" r="4.3" fill="#A3A500" fill-opacity="0.6" stroke="#000" stroke-opacity="0.62" stroke-width="1.05"/><text transform="translate(513.40,172.46) scale(1.045,1)" text-anchor="start" font-size="10" >3</text><circle cx="495.4" cy="189.74" r="4.3" fill="#39B600" fill-opacity="0.6" stroke="#000" stroke-opacity="0.62" stroke-width="1.05"/><text transform="translate(513.40,193.34) scale(1.045,1)" text-anchor="start" font-size="10" >4</text><circle cx="495.4" cy="210.62" r="4.3" fill="#00BF7D" fill-opacity="0.6" stroke="#000" stroke-opacity="0.62" stroke-width="1.05"/><text transform="translate(513.40,214.22) scale(1.045,1)" text-anchor="start" font-size="10" >5</text><circle cx="495.4" cy="231.5" r="4.3" fill="#00BFC4" fill-opacity="0.6" stroke="#000" stroke-opacity="0.62" stroke-width="1.05"/><text transform="translate(513.40,235.10) scale(1.045,1)" text-anchor="start" font-size="10" >6</text><circle cx="495.4" cy="252.38" r="4.3" fill="#00B0F6" fill-opacity="0.6" stroke="#000" stroke-opacity="0.62" stroke-width="1.05"/><text transform="translate(513.40,255.98) scale(1.045,1)" text-anchor="start" font-size="10" >7</text><circle cx="495.4" cy="273.26" r="4.3" fill="#9590FF" fill-opacity="0.6" stroke="#000" stroke-opacity="0.62" stroke-width="1.05"/><text transform="translate(513.40,276.86) scale(1.045,1)" text-anchor="start" font-size="10" >8</text><circle cx="495.4" cy="294.14" r="4.3" fill="#E76BF3" fill-opacity="0.6" stroke="#000" stroke-opacity="0.62" stroke-width="1.05"/><text transform="translate(513.40,297.74) scale(1.045,1)" text-anchor="start" font-size="10" >9</text><circle cx="495.4" cy="315.02" r="4.3" fill="#FF62BC" fill-opacity="0.6" stroke="#000" stroke-opacity="0.62" stroke-width="1.05"/><text transform="translate(513.40,318.62) scale(1.045,1)" text-anchor="start" font-size="10" >10</text></svg>
</body></html>
